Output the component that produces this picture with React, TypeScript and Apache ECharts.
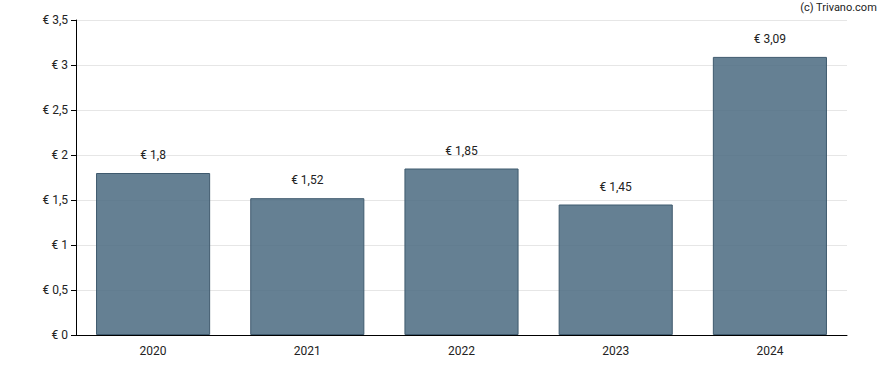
import React, { useEffect, useRef } from "react";
import * as echarts from "echarts";

const years = ["2020", "2021", "2022", "2023", "2024"];
const values = [1.8, 1.52, 1.85, 1.45, 3.09];

const fmt = (v: number) => "€ " + String(v).replace(".", ",");

export default function App() {
  const ref = useRef<HTMLDivElement>(null);
  useEffect(() => {
    const chart = echarts.init(ref.current!, null, { renderer: "svg" });
    chart.setOption({
      animation: false,
      textStyle: { fontFamily: "Roboto, Arial, sans-serif" },
      grid: { left: 76, right: 41, top: 20, bottom: 35 },
      graphic: [
        {
          type: "text",
          right: 11,
          top: 2,
          style: { text: "(c) Trivano.com", fontSize: 11, fill: "#222", fontFamily: "Roboto, Arial, sans-serif" },
        },
      ],
      xAxis: {
        type: "category",
        data: years,
        axisLine: { lineStyle: { color: "#000", width: 1 } },
        axisTick: { alignWithLabel: true, lineStyle: { color: "#000" }, length: 5 },
        axisLabel: { color: "#222", fontSize: 12, margin: 10 },
      },
      yAxis: {
        type: "value",
        min: 0,
        max: 3.5,
        interval: 0.5,
        axisLine: { show: true, lineStyle: { color: "#000", width: 1 } },
        axisTick: { show: true, lineStyle: { color: "#000" }, length: 5 },
        axisLabel: { color: "#222", fontSize: 12, margin: 8, formatter: (v: number) => fmt(v) },
        splitLine: { lineStyle: { color: "#e6e6e6", width: 1 } },
      },
      series: [
        {
          type: "bar",
          data: values,
          barWidth: "74%",
          itemStyle: { color: "rgba(80,110,132,0.88)", borderColor: "#3f5a6e", borderWidth: 1 },
          label: {
            show: true,
            position: "top",
            distance: 12,
            color: "#222",
            fontSize: 12,
            formatter: (p: any) => fmt(p.value),
          },
        },
      ],
    });
    return () => chart.dispose();
  }, []);
  return <div ref={ref} style={{ width: 888, height: 370, position: "absolute", left: 0, top: 0 }} />;
}
